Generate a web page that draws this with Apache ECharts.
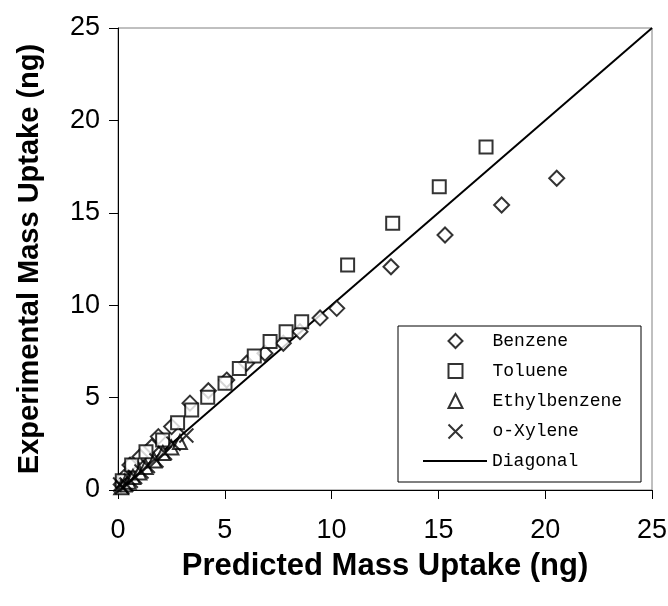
<!DOCTYPE html>
<html>
<head>
<meta charset="utf-8">
<script src="https://cdn.jsdelivr.net/npm/echarts@6/dist/echarts.min.js"></script>
<style>html,body{margin:0;padding:0;background:#fff;}#c{width:668px;height:606px;}</style>
</head>
<body>
<div id="c"></div>
<script>
var axisTicks = [0, 5, 10, 15, 20, 25];
var benzeneX = [0.15, 0.3, 0.56, 1.03, 1.58, 1.89, 2.51, 3.37, 4.23, 5.09, 6.02, 6.88, 7.74, 8.52, 9.46, 10.24, 12.78, 15.31, 17.96, 20.54];
var benzeneY = [0.3, 0.7, 1.35, 1.8, 2.34, 2.89, 3.43, 4.7, 5.37, 5.95, 6.86, 7.4, 7.94, 8.57, 9.31, 9.83, 12.08, 13.8, 15.42, 16.87];
var tolueneX = [0.2, 0.64, 1.31, 2.09, 2.79, 3.45, 4.2, 5.01, 5.68, 6.38, 7.12, 7.87, 8.6, 10.75, 12.86, 15.04, 17.23];
var tolueneY = [0.5, 1.35, 2.07, 2.71, 3.64, 4.33, 5.02, 5.77, 6.58, 7.25, 8.03, 8.57, 9.11, 12.18, 14.43, 16.41, 18.56];
var ethylX = [0.15, 0.3, 0.5, 0.7, 1.0, 1.3, 1.7, 2.1, 2.5, 2.9];
var ethylY = [0.15, 0.3, 0.45, 0.7, 0.95, 1.25, 1.6, 2.0, 2.3, 2.6];
var xyleneX = [0.1, 0.2, 0.4, 0.6, 0.8, 1.1, 1.4, 1.8, 2.2, 2.6, 3.2];
var xyleneY = [0.3, 0.15, 0.3, 0.5, 0.7, 1.0, 1.3, 1.6, 2.0, 2.5, 2.95];
var diagonalX = [0, 25];
var diagonalY = [0, 25];

function pairs(xs, ys) { return xs.map(function (v, i) { return [v, ys[i]]; }); }

var chart = echarts.init(document.getElementById('c'), null, {renderer: 'canvas'});
var hollow = {color: '#fff', borderColor: '#000', borderWidth: 2};
var axisCommon = {
  type: 'value', min: axisTicks[0], max: axisTicks[axisTicks.length - 1], interval: 5,
  axisLine: {show: true, lineStyle: {color: '#000', width: 1}},
  axisTick: {show: true, length: 9, lineStyle: {color: '#000'}},
  splitLine: {show: false},
  axisLabel: {color: '#000', fontFamily: 'Liberation Sans', fontSize: 27},
  nameLocation: 'middle'
};
var legendText = {color: '#000', fontFamily: 'Liberation Mono', fontSize: 18};
chart.setOption({
  animation: false,
  backgroundColor: '#fff',
  grid: {left: 118, right: 16, top: 28, bottom: 116, show: true, borderColor: '#808080', borderWidth: 1,
         containLabel: false, outerBoundsMode: 'none'},
  xAxis: Object.assign({}, axisCommon, {name: 'Predicted Mass Uptake (ng)', nameGap: 61,
    nameTextStyle: {color: '#000', fontFamily: 'Liberation Sans', fontSize: 31, fontWeight: 'bold'},
    axisLabel: Object.assign({}, axisCommon.axisLabel, {margin: 27})}),
  yAxis: Object.assign({}, axisCommon, {name: 'Experimental Mass Uptake (ng)', nameGap: 74,
    nameTextStyle: {color: '#000', fontFamily: 'Liberation Sans', fontSize: 29, fontWeight: 'bold'},
    axisLabel: Object.assign({}, axisCommon.axisLabel, {margin: 18})}),
  legend: [{
    data: ['Benzene', 'Toluene', 'Ethylbenzene', 'o-Xylene'],
    orient: 'vertical', left: 441, top: 327, itemWidth: 14, itemHeight: 14, itemGap: 12,
    textStyle: Object.assign({}, legendText, {padding: [0, 0, 0, 25]})
  }, {
    data: [{name: 'Diagonal', icon: 'rect'}],
    orient: 'vertical', left: 418, top: 447, itemWidth: 64, itemHeight: 2,
    itemStyle: {color: '#000', borderWidth: 0},
    textStyle: legendText
  }],
  graphic: [{
    type: 'rect', shape: {x: 398, y: 326, width: 243, height: 156},
    style: {fill: '#fff', stroke: '#000', lineWidth: 1}, z: 3
  }],
  series: [
    {name: 'Diagonal', type: 'line', data: pairs(diagonalX, diagonalY), symbol: 'none',
     lineStyle: {color: '#000', width: 2}, itemStyle: {color: '#000'}, z: 1},
    {name: 'Benzene', type: 'scatter', data: pairs(benzeneX, benzeneY), symbol: 'diamond', symbolSize: 15, itemStyle: hollow, z: 2},
    {name: 'Toluene', type: 'scatter', data: pairs(tolueneX, tolueneY), symbol: 'rect', symbolSize: 13, itemStyle: hollow, z: 2},
    {name: 'Ethylbenzene', type: 'scatter', data: pairs(ethylX, ethylY), symbol: 'triangle', symbolSize: 14, itemStyle: hollow, z: 2},
    {name: 'o-Xylene', type: 'scatter', data: pairs(xyleneX, xyleneY), symbol: 'path://M0,0L10,10M10,0L0,10', symbolSize: 14,
     itemStyle: {color: 'none', borderColor: '#000', borderWidth: 2}, z: 2}
  ]
});
</script>
</body>
</html>
